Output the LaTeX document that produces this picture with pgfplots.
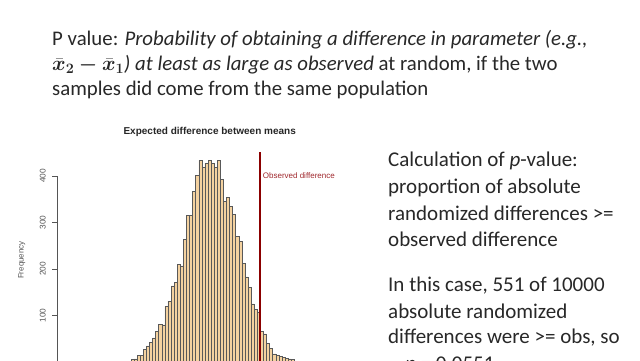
\documentclass[border=0pt]{standalone}
\usepackage{pgfplots}
\pgfplotsset{compat=1.18}
\usepackage{bm}
\usepackage{fontspec}
\setmainfont{Carlito}
\newfontfamily\rfont{Liberation Sans}
\definecolor{bartan}{RGB}{244,210,160}
\definecolor{rdark}{RGB}{139,0,0}
\definecolor{rtext}{RGB}{160,40,45}
\definecolor{txt}{RGB}{40,40,40}
\definecolor{axgray}{RGB}{85,85,85}

\begin{document}
\begin{tikzpicture}[x=1bp,y=1bp]
\useasboundingbox (0,0) rectangle (640,360);
\clip (0,0) rectangle (640,360);
\fill[white] (0,0) rectangle (640,360);

% slide text, top
\begin{scope}[every node/.style={anchor=base west, inner sep=0pt, text=txt, font=\fontsize{20.8bp}{25bp}\selectfont}]
\node at (52,315) {P value: \textit{Probability of obtaining a difference in parameter (e.g.,}};
\node at (52,289.5) {$\bm{\bar{x}_2 - \bar{x}_1}$\textit{) at least as large as observed} at random, if the two};
\node at (52,264.3) {samples did come from the same population};
\end{scope}

% slide text, right
\begin{scope}[every node/.style={anchor=base west, inner sep=0pt, text=txt, font=\fontsize{21bp}{25bp}\selectfont}]
\node at (388,193.3) {Calculation of \textit{p}-value:};
\node at (388,166.7) {proportion of absolute};
\node at (388,140) {randomized differences >=};
\node at (388,114) {observed difference};
\node at (388,68.3) {In this case, 551 of 10000};
\node at (388,41.7) {absolute randomized};
\node at (388,16.7) {differences were >= obs, so};
\node at (405,-10) {\textit{p} = 0.0551};
\end{scope}

\begin{axis}[
  at={(57bp,-2.2bp)}, anchor=south west,
  scale only axis, width=306bp, height=210.5bp,
  xmin=-24.03, xmax=75.32, ymin=0, ymax=452,
  clip=false,
  axis line style={draw=none},
  xtick=\empty,
  ytick={100,200,300,400},
  ytick pos=left,
  tick align=outside,
  major tick length=5bp,
  ytick style={axgray, line width=0.5bp},
  /pgf/number format/assume math mode=true,
  yticklabel style={rotate=90, anchor=south, inner sep=0pt, yshift=6bp,
    font=\rfont\fontsize{8.3bp}{9bp}\selectfont, text=axgray},
]
\addplot[ybar interval, fill=bartan, draw=black!65, line width=0.5bp] coordinates {
(0,6) (1,7) (2,14) (3,15) (4,27) (5,35) (6,43) (7,52) (8,66) (9,82)
(10,80) (11,120) (12,131) (13,164) (14,172) (15,210) (16,207) (17,264) (18,315) (19,315)
(20,367) (21,401) (22,433) (23,418) (24,427) (25,434) (26,427) (27,418) (28,433) (29,393)
(30,345) (31,354) (32,334) (33,318) (34,270) (35,259) (36,212) (37,183) (38,161) (39,125)
(40,114) (41,108) (42,66) (43,61) (44,40) (45,30) (46,18) (47,15) (48,12) (49,10)
(50,8) (51,7) (52,6) (53,6)
};
\addplot[rdark, line width=1.8bp] coordinates {(42,0) (42,452)};
\draw[axgray, line width=0.5bp] (axis cs:-24.03,0) -- (axis cs:-24.03,400);
\end{axis}

% chart texts
\node[font=\rfont\bfseries\fontsize{10bp}{12bp}\selectfont, text=black!85] at (209.7,228.3) {Expected difference between means};
\node[rotate=90, font=\rfont\fontsize{8bp}{9bp}\selectfont, text=axgray] at (21.7,100) {Frequency};
\node[anchor=west, inner sep=0pt, font=\rfont\fontsize{8bp}{9bp}\selectfont, text=rtext] at (262.7,184) {Observed difference};
\end{tikzpicture}
\end{document}
